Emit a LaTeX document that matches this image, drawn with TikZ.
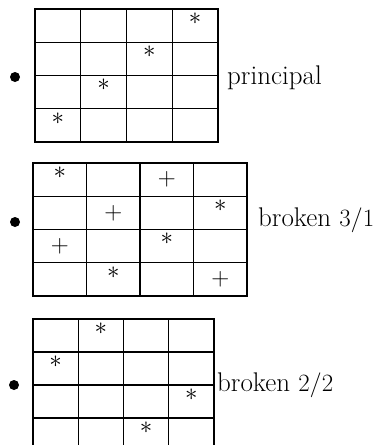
\documentclass[tikz,border=0pt]{standalone}
\usetikzlibrary{positioning}

\tikzset{
    gridline/.style={line width=1.2pt, line cap=rect},
    dot/.style={circle, fill, inner sep=0pt, minimum size=10pt},
    sym/.style={inner sep=0pt, font=\fontsize{24}{28}\selectfont},
    starsym/.style={sym, yshift=7pt},
    label/.style={anchor=base west, inner sep=0pt, font=\fontsize{27}{32}\selectfont},
}

\begin{document}
\begin{tikzpicture}[x=1pt, y=-1pt]
    \useasboundingbox (0,0) rectangle (390,445);
    \clip (0,0) rectangle (390,445);

    % principal
    \node [dot]                    (D1) at (15,77)  {};
    \node [label]                  (L1) at (227,84) {principal};
    \begin{scope}[shift={(35,9)}, x=45.75pt, y=-33.25pt]
        \foreach \i in {0,...,4} {
            \draw[gridline] (\i,0) -- (\i,4);
            \draw[gridline] (0,\i) -- (4,\i);
        }
        \foreach \c/\r in {3/0, 2/1, 1/2, 0/3}
            \node[starsym] (p\c\r) at (\c+0.5,\r+0.5) {$\ast$};
    \end{scope}

    % broken 3/1
    \node [dot]                    (D2) at (15,222) {};
    \node [label]                  (L2) at (258,226) {broken $3/1$};
    \begin{scope}[shift={(33,163)}, x=53.5pt, y=-33.25pt]
        \foreach \i in {0,...,4} {
            \draw[gridline] (\i,0) -- (\i,4);
            \draw[gridline] (0,\i) -- (4,\i);
        }
        \foreach \c/\r in {0/0, 3/1, 2/2, 1/3}
            \node[starsym] (s\c\r) at (\c+0.5,\r+0.5) {$\ast$};
        \foreach \c/\r in {2/0, 1/1, 0/2, 3/3}
            \node[sym] (t\c\r) at (\c+0.5,\r+0.5) {$+$};
    \end{scope}

    % broken 2/2
    \node [dot]                    (D3) at (14,385) {};
    \node [label]                  (L3) at (217,391) {broken $2/2$};
    \begin{scope}[shift={(33,319)}, x=45.25pt, y=-33pt]
        \foreach \i in {0,...,4} {
            \draw[gridline] (\i,0) -- (\i,4);
            \draw[gridline] (0,\i) -- (4,\i);
        }
        \foreach \c/\r in {1/0, 0/1, 3/2, 2/3}
            \node[starsym] (b\c\r) at (\c+0.5,\r+0.5) {$\ast$};
    \end{scope}
\end{tikzpicture}
\end{document}
